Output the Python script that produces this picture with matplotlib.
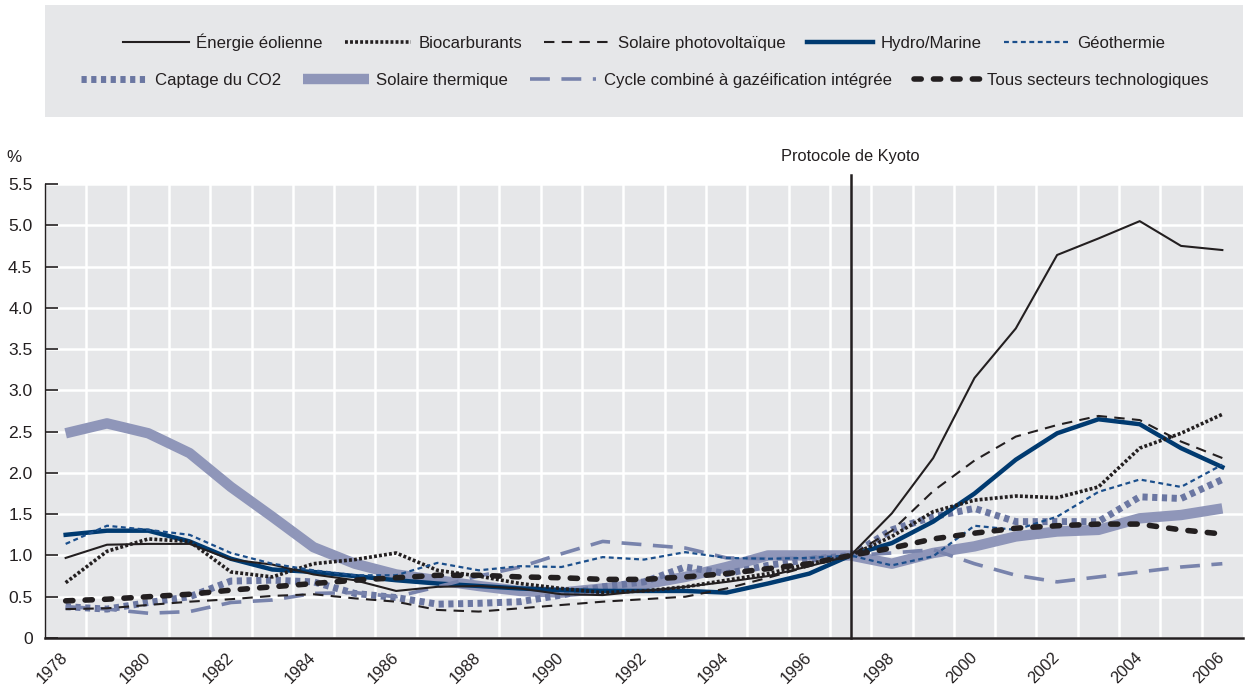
import numpy as np
import matplotlib
matplotlib.use('Agg')
import matplotlib.pyplot as plt
from matplotlib import font_manager
from matplotlib.patches import Rectangle

# ---- data (index = 1, 1997 = base year) ----
years = list(range(1978, 2007))

eolien = [0.97, 1.13, 1.14, 1.14, 0.95, 0.89, 0.77, 0.70, 0.57, 0.62,
          0.63, 0.60, 0.53, 0.52, 0.57, 0.62, 0.68, 0.75, 0.87, 1.00,
          1.51, 2.18, 3.15, 3.75, 4.64, 4.84, 5.05, 4.75, 4.70]
biocarb = [0.67, 1.05, 1.20, 1.17, 0.80, 0.74, 0.90, 0.95, 1.03, 0.82,
           0.75, 0.66, 0.60, 0.55, 0.57, 0.62, 0.70, 0.78, 0.90, 1.00,
           1.23, 1.53, 1.67, 1.72, 1.70, 1.83, 2.30, 2.48, 2.71]
pv = [0.35, 0.36, 0.40, 0.44, 0.47, 0.51, 0.53, 0.48, 0.44, 0.34,
      0.32, 0.36, 0.40, 0.44, 0.47, 0.50, 0.60, 0.73, 0.87, 1.00,
      1.30, 1.78, 2.15, 2.44, 2.58, 2.69, 2.64, 2.38, 2.18]
hydro = [1.25, 1.30, 1.30, 1.17, 0.96, 0.83, 0.80, 0.75, 0.70, 0.66,
         0.63, 0.60, 0.58, 0.57, 0.57, 0.57, 0.55, 0.66, 0.78, 1.00,
         1.15, 1.41, 1.75, 2.16, 2.48, 2.65, 2.59, 2.30, 2.07]
geo = [1.14, 1.36, 1.31, 1.25, 1.03, 0.90, 0.82, 0.76, 0.76, 0.91,
       0.82, 0.87, 0.86, 0.98, 0.95, 1.04, 0.97, 0.96, 0.97, 1.00,
       0.88, 0.99, 1.36, 1.31, 1.47, 1.77, 1.92, 1.83, 2.10]
co2 = [0.38, 0.35, 0.43, 0.50, 0.69, 0.70, 0.68, 0.54, 0.49, 0.41,
       0.42, 0.44, 0.52, 0.62, 0.68, 0.86, 0.78, 0.88, 0.95, 1.00,
       1.31, 1.47, 1.57, 1.41, 1.41, 1.41, 1.71, 1.69, 1.92]
thermique = [2.48, 2.60, 2.48, 2.24, 1.83, 1.47, 1.10, 0.90, 0.77, 0.70,
             0.63, 0.57, 0.55, 0.60, 0.65, 0.74, 0.86, 1.00, 1.00, 1.00,
             0.90, 1.03, 1.11, 1.23, 1.29, 1.31, 1.45, 1.49, 1.57]
igcc = [0.38, 0.35, 0.30, 0.32, 0.43, 0.46, 0.54, 0.55, 0.50, 0.62,
        0.75, 0.86, 1.02, 1.17, 1.13, 1.09, 0.97, 0.96, 0.97, 1.00,
        1.03, 1.07, 0.90, 0.76, 0.68, 0.74, 0.80, 0.86, 0.90]
total = [0.45, 0.47, 0.50, 0.53, 0.58, 0.62, 0.66, 0.70, 0.73, 0.76,
         0.76, 0.74, 0.73, 0.71, 0.71, 0.74, 0.78, 0.84, 0.90, 1.00,
         1.09, 1.20, 1.27, 1.33, 1.36, 1.38, 1.38, 1.31, 1.26]

labels = ['Énergie éolienne', 'Biocarburants', 'Solaire photovoltaïque',
          'Hydro/Marine', 'Géothermie', 'Captage du CO2', 'Solaire thermique',
          'Cycle combiné à gazéification intégrée', 'Tous secteurs technologiques']

xtick_years = list(range(1978, 2007, 2))
ytick_vals = [0, 0.5, 1.0, 1.5, 2.0, 2.5, 3.0, 3.5, 4.0, 4.5, 5.0, 5.5]
ytick_labels = ['0', '0.5', '1.0', '1.5', '2.0', '2.5', '3.0', '3.5',
                '4.0', '4.5', '5.0', '5.5']
kyoto_year = 1997

# ---- fonts ----
installed = {f.name for f in font_manager.fontManager.ttflist}
if 'Liberation Sans Narrow' in installed:
    main_font = 'Liberation Sans Narrow'
    k = 1.0
else:
    main_font = 'Liberation Sans'
    k = 0.84
plt.rcParams['font.family'] = [main_font, 'DejaVu Sans']

BLACK = '#231f20'
BG = '#e6e7e9'

fig = plt.figure(figsize=(12.45, 6.93), dpi=100)
W, H = 1245, 693
ax = fig.add_axes([45 / W, 55 / H, 1198 / W, 454 / H])
ax.set_facecolor(BG)

series = [eolien, biocarb, pv, hydro, geo, co2, thermique, igcc, total]
styles = [
    dict(color=BLACK, lw=1.5),
    dict(color=BLACK, lw=2.6, dashes=(0.8, 0.6)),
    dict(color=BLACK, lw=1.5, dashes=(5, 3.5)),
    dict(color='#003a70', lw=3.2),
    dict(color='#1b4f8c', lw=1.6, dashes=(2.2, 1.6)),
    dict(color='#6b77a2', lw=5, dashes=(0.75, 0.65)),
    dict(color='#8f96b9', lw=7.5, solid_capstyle='butt'),
    dict(color='#7883ac', lw=2.6, dashes=(5.5, 3.2)),
    dict(color=BLACK, lw=4, dashes=(1.3, 2.2), dash_capstyle='round'),
]
zorders = [5, 5, 5, 4, 5, 3, 2, 4, 6]

handles = []
for vals, lab, st, z in zip(series, labels, styles, zorders):
    ln, = ax.plot(years, vals, label=lab, zorder=z, **st)
    handles.append(ln)

ax.set_xlim(1977.5, 2006.5)
ax.set_ylim(0, 5.5)

# grid: white lines every 0.5 and between years
ax.set_xticks(xtick_years)
ax.set_xticklabels([str(y) for y in xtick_years])
ax.set_xticks(np.arange(1978.5, 2006, 1.0), minor=True)
ax.set_yticks(ytick_vals)
ax.set_yticklabels(ytick_labels)
ax.grid(which='minor', axis='x', color='white', lw=1.8)
ax.grid(which='major', axis='y', color='white', lw=1.8)
ax.set_axisbelow(True)

ax.tick_params(axis='y', which='major', direction='in', length=9, width=1.2,
               color=BLACK, pad=9, labelsize=15 * k, labelcolor=BLACK)
ax.tick_params(axis='x', which='both', length=0, pad=12, labelsize=14 * k,
               labelcolor=BLACK)
for lab in ax.get_xticklabels():
    lab.set_rotation(45)
    lab.set_ha('right')
    lab.set_va('center')
    lab.set_rotation_mode('anchor')

for s in ['top', 'right']:
    ax.spines[s].set_visible(False)
ax.spines['left'].set_linewidth(1.0)
ax.spines['left'].set_color(BLACK)
ax.spines['bottom'].set_linewidth(1.8)
ax.spines['bottom'].set_color(BLACK)

# Kyoto marker
ax.axvline(kyoto_year, ymin=0, ymax=(638 - 175) / 454, color=BLACK, lw=1.8,
           clip_on=False, zorder=7)
ax.text(kyoto_year, 5.5 + (184 - 157) / 82.5, 'Protocole de Kyoto',
        ha='center', va='center', fontsize=14 * k, color=BLACK)

fig.text(14 / W, 1 - 157 / H, '%', ha='center', va='center',
         fontsize=14.5 * k, color=BLACK)

# legend box
fig.patches.append(Rectangle((45 / W, 1 - 117 / H), 1198 / W, 112 / H,
                             transform=fig.transFigure, facecolor=BG,
                             edgecolor='none', zorder=0))
leg_fs = 14.4 * k
leg_kw = dict(loc='center', frameon=False, fontsize=leg_fs,
              handlelength=66 / (leg_fs * 1.389), handletextpad=0.45,
              columnspacing=22 / (leg_fs * 1.389), borderpad=0,
              labelcolor=BLACK)
fig.legend(handles[:5], labels[:5], ncol=5,
           bbox_to_anchor=(644 / W, 1 - 42 / H), **leg_kw)
fig.legend(handles[5:], labels[5:], ncol=4,
           bbox_to_anchor=(645 / W, 1 - 80 / H), **leg_kw)

fig.savefig('out.png', dpi=100, facecolor='white')
